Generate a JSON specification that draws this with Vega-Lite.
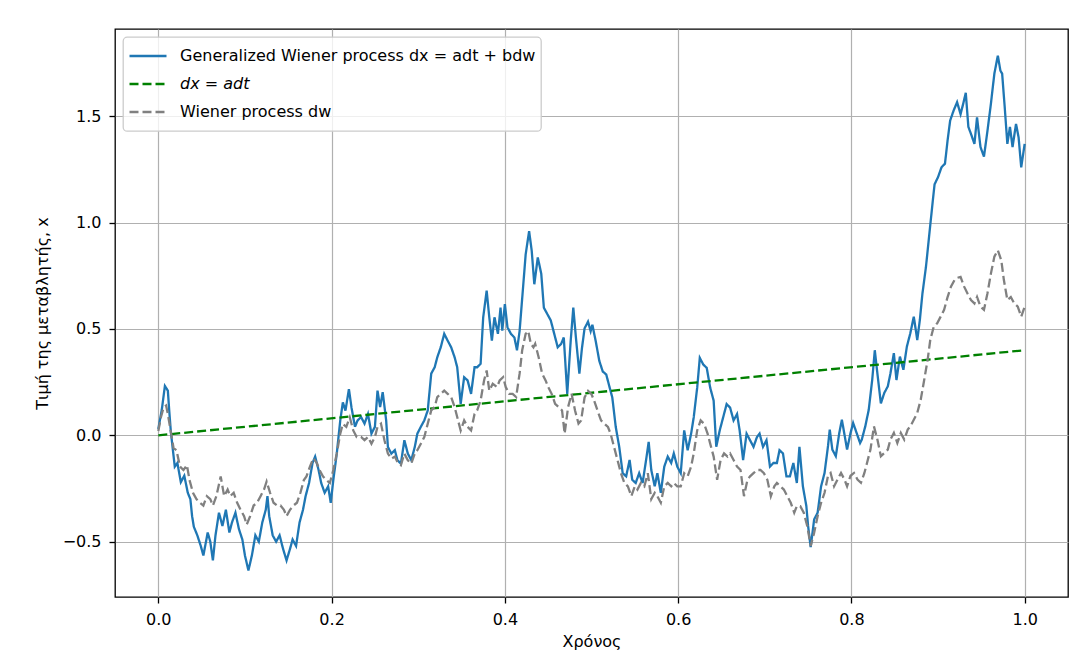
{
  "$schema": "https://vega.github.io/schema/vega-lite/v6.json",
  "width": 953,
  "height": 568,
  "autosize": {"type": "none"},
  "padding": {"left": 115, "top": 29, "right": 13, "bottom": 71},
  "background": "white",
  "datasets": {
    "gen": [
      {"t":0,"v":0.03,"s":"Generalized Wiener process dx = adt + bdw"},
      {"t":0.004,"v":0.12,"s":"Generalized Wiener process dx = adt + bdw"},
      {"t":0.0076,"v":0.232,"s":"Generalized Wiener process dx = adt + bdw"},
      {"t":0.011,"v":0.21,"s":"Generalized Wiener process dx = adt + bdw"},
      {"t":0.0126,"v":0.116,"s":"Generalized Wiener process dx = adt + bdw"},
      {"t":0.0145,"v":0.015,"s":"Generalized Wiener process dx = adt + bdw"},
      {"t":0.0164,"v":-0.054,"s":"Generalized Wiener process dx = adt + bdw"},
      {"t":0.019,"v":-0.147,"s":"Generalized Wiener process dx = adt + bdw"},
      {"t":0.022,"v":-0.13,"s":"Generalized Wiener process dx = adt + bdw"},
      {"t":0.026,"v":-0.22,"s":"Generalized Wiener process dx = adt + bdw"},
      {"t":0.03,"v":-0.19,"s":"Generalized Wiener process dx = adt + bdw"},
      {"t":0.034,"v":-0.27,"s":"Generalized Wiener process dx = adt + bdw"},
      {"t":0.037,"v":-0.3,"s":"Generalized Wiener process dx = adt + bdw"},
      {"t":0.039,"v":-0.38,"s":"Generalized Wiener process dx = adt + bdw"},
      {"t":0.041,"v":-0.43,"s":"Generalized Wiener process dx = adt + bdw"},
      {"t":0.045,"v":-0.47,"s":"Generalized Wiener process dx = adt + bdw"},
      {"t":0.049,"v":-0.52,"s":"Generalized Wiener process dx = adt + bdw"},
      {"t":0.052,"v":-0.565,"s":"Generalized Wiener process dx = adt + bdw"},
      {"t":0.057,"v":-0.457,"s":"Generalized Wiener process dx = adt + bdw"},
      {"t":0.06,"v":-0.5,"s":"Generalized Wiener process dx = adt + bdw"},
      {"t":0.063,"v":-0.588,"s":"Generalized Wiener process dx = adt + bdw"},
      {"t":0.066,"v":-0.47,"s":"Generalized Wiener process dx = adt + bdw"},
      {"t":0.07,"v":-0.364,"s":"Generalized Wiener process dx = adt + bdw"},
      {"t":0.074,"v":-0.426,"s":"Generalized Wiener process dx = adt + bdw"},
      {"t":0.078,"v":-0.35,"s":"Generalized Wiener process dx = adt + bdw"},
      {"t":0.082,"v":-0.457,"s":"Generalized Wiener process dx = adt + bdw"},
      {"t":0.085,"v":-0.41,"s":"Generalized Wiener process dx = adt + bdw"},
      {"t":0.089,"v":-0.364,"s":"Generalized Wiener process dx = adt + bdw"},
      {"t":0.093,"v":-0.44,"s":"Generalized Wiener process dx = adt + bdw"},
      {"t":0.097,"v":-0.49,"s":"Generalized Wiener process dx = adt + bdw"},
      {"t":0.1,"v":-0.565,"s":"Generalized Wiener process dx = adt + bdw"},
      {"t":0.104,"v":-0.635,"s":"Generalized Wiener process dx = adt + bdw"},
      {"t":0.108,"v":-0.565,"s":"Generalized Wiener process dx = adt + bdw"},
      {"t":0.112,"v":-0.47,"s":"Generalized Wiener process dx = adt + bdw"},
      {"t":0.116,"v":-0.5,"s":"Generalized Wiener process dx = adt + bdw"},
      {"t":0.12,"v":-0.41,"s":"Generalized Wiener process dx = adt + bdw"},
      {"t":0.124,"v":-0.35,"s":"Generalized Wiener process dx = adt + bdw"},
      {"t":0.126,"v":-0.286,"s":"Generalized Wiener process dx = adt + bdw"},
      {"t":0.128,"v":-0.38,"s":"Generalized Wiener process dx = adt + bdw"},
      {"t":0.132,"v":-0.47,"s":"Generalized Wiener process dx = adt + bdw"},
      {"t":0.136,"v":-0.5,"s":"Generalized Wiener process dx = adt + bdw"},
      {"t":0.14,"v":-0.47,"s":"Generalized Wiener process dx = adt + bdw"},
      {"t":0.144,"v":-0.534,"s":"Generalized Wiener process dx = adt + bdw"},
      {"t":0.148,"v":-0.588,"s":"Generalized Wiener process dx = adt + bdw"},
      {"t":0.152,"v":-0.534,"s":"Generalized Wiener process dx = adt + bdw"},
      {"t":0.155,"v":-0.49,"s":"Generalized Wiener process dx = adt + bdw"},
      {"t":0.159,"v":-0.52,"s":"Generalized Wiener process dx = adt + bdw"},
      {"t":0.163,"v":-0.41,"s":"Generalized Wiener process dx = adt + bdw"},
      {"t":0.167,"v":-0.35,"s":"Generalized Wiener process dx = adt + bdw"},
      {"t":0.17,"v":-0.286,"s":"Generalized Wiener process dx = adt + bdw"},
      {"t":0.174,"v":-0.224,"s":"Generalized Wiener process dx = adt + bdw"},
      {"t":0.178,"v":-0.13,"s":"Generalized Wiener process dx = adt + bdw"},
      {"t":0.181,"v":-0.1,"s":"Generalized Wiener process dx = adt + bdw"},
      {"t":0.185,"v":-0.163,"s":"Generalized Wiener process dx = adt + bdw"},
      {"t":0.188,"v":-0.224,"s":"Generalized Wiener process dx = adt + bdw"},
      {"t":0.192,"v":-0.27,"s":"Generalized Wiener process dx = adt + bdw"},
      {"t":0.196,"v":-0.24,"s":"Generalized Wiener process dx = adt + bdw"},
      {"t":0.199,"v":-0.317,"s":"Generalized Wiener process dx = adt + bdw"},
      {"t":0.202,"v":-0.21,"s":"Generalized Wiener process dx = adt + bdw"},
      {"t":0.206,"v":-0.085,"s":"Generalized Wiener process dx = adt + bdw"},
      {"t":0.21,"v":0.07,"s":"Generalized Wiener process dx = adt + bdw"},
      {"t":0.213,"v":0.155,"s":"Generalized Wiener process dx = adt + bdw"},
      {"t":0.216,"v":0.116,"s":"Generalized Wiener process dx = adt + bdw"},
      {"t":0.22,"v":0.217,"s":"Generalized Wiener process dx = adt + bdw"},
      {"t":0.223,"v":0.13,"s":"Generalized Wiener process dx = adt + bdw"},
      {"t":0.227,"v":0.04,"s":"Generalized Wiener process dx = adt + bdw"},
      {"t":0.23,"v":0.07,"s":"Generalized Wiener process dx = adt + bdw"},
      {"t":0.234,"v":0.086,"s":"Generalized Wiener process dx = adt + bdw"},
      {"t":0.238,"v":0.055,"s":"Generalized Wiener process dx = adt + bdw"},
      {"t":0.242,"v":0.1,"s":"Generalized Wiener process dx = adt + bdw"},
      {"t":0.246,"v":0.008,"s":"Generalized Wiener process dx = adt + bdw"},
      {"t":0.25,"v":0.04,"s":"Generalized Wiener process dx = adt + bdw"},
      {"t":0.253,"v":0.21,"s":"Generalized Wiener process dx = adt + bdw"},
      {"t":0.256,"v":0.133,"s":"Generalized Wiener process dx = adt + bdw"},
      {"t":0.259,"v":0.203,"s":"Generalized Wiener process dx = adt + bdw"},
      {"t":0.263,"v":0.07,"s":"Generalized Wiener process dx = adt + bdw"},
      {"t":0.265,"v":-0.055,"s":"Generalized Wiener process dx = adt + bdw"},
      {"t":0.269,"v":-0.086,"s":"Generalized Wiener process dx = adt + bdw"},
      {"t":0.273,"v":-0.07,"s":"Generalized Wiener process dx = adt + bdw"},
      {"t":0.276,"v":-0.117,"s":"Generalized Wiener process dx = adt + bdw"},
      {"t":0.28,"v":-0.133,"s":"Generalized Wiener process dx = adt + bdw"},
      {"t":0.284,"v":-0.023,"s":"Generalized Wiener process dx = adt + bdw"},
      {"t":0.288,"v":-0.086,"s":"Generalized Wiener process dx = adt + bdw"},
      {"t":0.292,"v":-0.117,"s":"Generalized Wiener process dx = adt + bdw"},
      {"t":0.296,"v":-0.055,"s":"Generalized Wiener process dx = adt + bdw"},
      {"t":0.299,"v":0.008,"s":"Generalized Wiener process dx = adt + bdw"},
      {"t":0.303,"v":0.04,"s":"Generalized Wiener process dx = adt + bdw"},
      {"t":0.307,"v":0.07,"s":"Generalized Wiener process dx = adt + bdw"},
      {"t":0.311,"v":0.117,"s":"Generalized Wiener process dx = adt + bdw"},
      {"t":0.315,"v":0.29,"s":"Generalized Wiener process dx = adt + bdw"},
      {"t":0.319,"v":0.32,"s":"Generalized Wiener process dx = adt + bdw"},
      {"t":0.322,"v":0.367,"s":"Generalized Wiener process dx = adt + bdw"},
      {"t":0.326,"v":0.414,"s":"Generalized Wiener process dx = adt + bdw"},
      {"t":0.33,"v":0.477,"s":"Generalized Wiener process dx = adt + bdw"},
      {"t":0.334,"v":0.445,"s":"Generalized Wiener process dx = adt + bdw"},
      {"t":0.338,"v":0.414,"s":"Generalized Wiener process dx = adt + bdw"},
      {"t":0.342,"v":0.367,"s":"Generalized Wiener process dx = adt + bdw"},
      {"t":0.345,"v":0.32,"s":"Generalized Wiener process dx = adt + bdw"},
      {"t":0.349,"v":0.148,"s":"Generalized Wiener process dx = adt + bdw"},
      {"t":0.353,"v":0.273,"s":"Generalized Wiener process dx = adt + bdw"},
      {"t":0.357,"v":0.258,"s":"Generalized Wiener process dx = adt + bdw"},
      {"t":0.361,"v":0.195,"s":"Generalized Wiener process dx = adt + bdw"},
      {"t":0.365,"v":0.32,"s":"Generalized Wiener process dx = adt + bdw"},
      {"t":0.368,"v":0.32,"s":"Generalized Wiener process dx = adt + bdw"},
      {"t":0.372,"v":0.336,"s":"Generalized Wiener process dx = adt + bdw"},
      {"t":0.375,"v":0.555,"s":"Generalized Wiener process dx = adt + bdw"},
      {"t":0.379,"v":0.68,"s":"Generalized Wiener process dx = adt + bdw"},
      {"t":0.382,"v":0.555,"s":"Generalized Wiener process dx = adt + bdw"},
      {"t":0.385,"v":0.445,"s":"Generalized Wiener process dx = adt + bdw"},
      {"t":0.388,"v":0.555,"s":"Generalized Wiener process dx = adt + bdw"},
      {"t":0.392,"v":0.477,"s":"Generalized Wiener process dx = adt + bdw"},
      {"t":0.395,"v":0.6,"s":"Generalized Wiener process dx = adt + bdw"},
      {"t":0.397,"v":0.492,"s":"Generalized Wiener process dx = adt + bdw"},
      {"t":0.4,"v":0.617,"s":"Generalized Wiener process dx = adt + bdw"},
      {"t":0.403,"v":0.508,"s":"Generalized Wiener process dx = adt + bdw"},
      {"t":0.407,"v":0.477,"s":"Generalized Wiener process dx = adt + bdw"},
      {"t":0.411,"v":0.46,"s":"Generalized Wiener process dx = adt + bdw"},
      {"t":0.414,"v":0.4,"s":"Generalized Wiener process dx = adt + bdw"},
      {"t":0.417,"v":0.49,"s":"Generalized Wiener process dx = adt + bdw"},
      {"t":0.421,"v":0.695,"s":"Generalized Wiener process dx = adt + bdw"},
      {"t":0.424,"v":0.85,"s":"Generalized Wiener process dx = adt + bdw"},
      {"t":0.428,"v":0.96,"s":"Generalized Wiener process dx = adt + bdw"},
      {"t":0.431,"v":0.867,"s":"Generalized Wiener process dx = adt + bdw"},
      {"t":0.434,"v":0.71,"s":"Generalized Wiener process dx = adt + bdw"},
      {"t":0.438,"v":0.836,"s":"Generalized Wiener process dx = adt + bdw"},
      {"t":0.442,"v":0.76,"s":"Generalized Wiener process dx = adt + bdw"},
      {"t":0.445,"v":0.6,"s":"Generalized Wiener process dx = adt + bdw"},
      {"t":0.449,"v":0.57,"s":"Generalized Wiener process dx = adt + bdw"},
      {"t":0.453,"v":0.54,"s":"Generalized Wiener process dx = adt + bdw"},
      {"t":0.457,"v":0.477,"s":"Generalized Wiener process dx = adt + bdw"},
      {"t":0.461,"v":0.414,"s":"Generalized Wiener process dx = adt + bdw"},
      {"t":0.465,"v":0.43,"s":"Generalized Wiener process dx = adt + bdw"},
      {"t":0.468,"v":0.46,"s":"Generalized Wiener process dx = adt + bdw"},
      {"t":0.472,"v":0.195,"s":"Generalized Wiener process dx = adt + bdw"},
      {"t":0.476,"v":0.445,"s":"Generalized Wiener process dx = adt + bdw"},
      {"t":0.479,"v":0.6,"s":"Generalized Wiener process dx = adt + bdw"},
      {"t":0.482,"v":0.46,"s":"Generalized Wiener process dx = adt + bdw"},
      {"t":0.486,"v":0.29,"s":"Generalized Wiener process dx = adt + bdw"},
      {"t":0.489,"v":0.41,"s":"Generalized Wiener process dx = adt + bdw"},
      {"t":0.492,"v":0.503,"s":"Generalized Wiener process dx = adt + bdw"},
      {"t":0.496,"v":0.534,"s":"Generalized Wiener process dx = adt + bdw"},
      {"t":0.499,"v":0.49,"s":"Generalized Wiener process dx = adt + bdw"},
      {"t":0.501,"v":0.52,"s":"Generalized Wiener process dx = adt + bdw"},
      {"t":0.505,"v":0.44,"s":"Generalized Wiener process dx = adt + bdw"},
      {"t":0.509,"v":0.35,"s":"Generalized Wiener process dx = adt + bdw"},
      {"t":0.513,"v":0.3,"s":"Generalized Wiener process dx = adt + bdw"},
      {"t":0.517,"v":0.286,"s":"Generalized Wiener process dx = adt + bdw"},
      {"t":0.521,"v":0.224,"s":"Generalized Wiener process dx = adt + bdw"},
      {"t":0.524,"v":0.178,"s":"Generalized Wiener process dx = adt + bdw"},
      {"t":0.528,"v":0.039,"s":"Generalized Wiener process dx = adt + bdw"},
      {"t":0.532,"v":-0.054,"s":"Generalized Wiener process dx = adt + bdw"},
      {"t":0.536,"v":-0.178,"s":"Generalized Wiener process dx = adt + bdw"},
      {"t":0.54,"v":-0.193,"s":"Generalized Wiener process dx = adt + bdw"},
      {"t":0.544,"v":-0.116,"s":"Generalized Wiener process dx = adt + bdw"},
      {"t":0.547,"v":-0.209,"s":"Generalized Wiener process dx = adt + bdw"},
      {"t":0.551,"v":-0.224,"s":"Generalized Wiener process dx = adt + bdw"},
      {"t":0.555,"v":-0.178,"s":"Generalized Wiener process dx = adt + bdw"},
      {"t":0.559,"v":-0.224,"s":"Generalized Wiener process dx = adt + bdw"},
      {"t":0.563,"v":-0.116,"s":"Generalized Wiener process dx = adt + bdw"},
      {"t":0.566,"v":-0.031,"s":"Generalized Wiener process dx = adt + bdw"},
      {"t":0.569,"v":-0.163,"s":"Generalized Wiener process dx = adt + bdw"},
      {"t":0.573,"v":-0.24,"s":"Generalized Wiener process dx = adt + bdw"},
      {"t":0.576,"v":-0.178,"s":"Generalized Wiener process dx = adt + bdw"},
      {"t":0.58,"v":-0.27,"s":"Generalized Wiener process dx = adt + bdw"},
      {"t":0.584,"v":-0.147,"s":"Generalized Wiener process dx = adt + bdw"},
      {"t":0.588,"v":-0.1,"s":"Generalized Wiener process dx = adt + bdw"},
      {"t":0.592,"v":-0.13,"s":"Generalized Wiener process dx = adt + bdw"},
      {"t":0.595,"v":-0.085,"s":"Generalized Wiener process dx = adt + bdw"},
      {"t":0.599,"v":-0.147,"s":"Generalized Wiener process dx = adt + bdw"},
      {"t":0.603,"v":-0.178,"s":"Generalized Wiener process dx = adt + bdw"},
      {"t":0.607,"v":0.023,"s":"Generalized Wiener process dx = adt + bdw"},
      {"t":0.611,"v":-0.07,"s":"Generalized Wiener process dx = adt + bdw"},
      {"t":0.615,"v":0.008,"s":"Generalized Wiener process dx = adt + bdw"},
      {"t":0.618,"v":0.085,"s":"Generalized Wiener process dx = adt + bdw"},
      {"t":0.622,"v":0.224,"s":"Generalized Wiener process dx = adt + bdw"},
      {"t":0.625,"v":0.364,"s":"Generalized Wiener process dx = adt + bdw"},
      {"t":0.629,"v":0.333,"s":"Generalized Wiener process dx = adt + bdw"},
      {"t":0.633,"v":0.317,"s":"Generalized Wiener process dx = adt + bdw"},
      {"t":0.637,"v":0.224,"s":"Generalized Wiener process dx = adt + bdw"},
      {"t":0.641,"v":0.163,"s":"Generalized Wiener process dx = adt + bdw"},
      {"t":0.644,"v":-0.054,"s":"Generalized Wiener process dx = adt + bdw"},
      {"t":0.648,"v":0.023,"s":"Generalized Wiener process dx = adt + bdw"},
      {"t":0.652,"v":0.085,"s":"Generalized Wiener process dx = adt + bdw"},
      {"t":0.656,"v":0.147,"s":"Generalized Wiener process dx = adt + bdw"},
      {"t":0.66,"v":0.13,"s":"Generalized Wiener process dx = adt + bdw"},
      {"t":0.664,"v":0.07,"s":"Generalized Wiener process dx = adt + bdw"},
      {"t":0.668,"v":0.1,"s":"Generalized Wiener process dx = adt + bdw"},
      {"t":0.671,"v":0.023,"s":"Generalized Wiener process dx = adt + bdw"},
      {"t":0.675,"v":-0.116,"s":"Generalized Wiener process dx = adt + bdw"},
      {"t":0.679,"v":0.008,"s":"Generalized Wiener process dx = adt + bdw"},
      {"t":0.683,"v":-0.023,"s":"Generalized Wiener process dx = adt + bdw"},
      {"t":0.687,"v":-0.054,"s":"Generalized Wiener process dx = adt + bdw"},
      {"t":0.691,"v":-0.008,"s":"Generalized Wiener process dx = adt + bdw"},
      {"t":0.694,"v":0.008,"s":"Generalized Wiener process dx = adt + bdw"},
      {"t":0.698,"v":-0.054,"s":"Generalized Wiener process dx = adt + bdw"},
      {"t":0.702,"v":-0.023,"s":"Generalized Wiener process dx = adt + bdw"},
      {"t":0.706,"v":-0.147,"s":"Generalized Wiener process dx = adt + bdw"},
      {"t":0.71,"v":-0.13,"s":"Generalized Wiener process dx = adt + bdw"},
      {"t":0.714,"v":-0.13,"s":"Generalized Wiener process dx = adt + bdw"},
      {"t":0.717,"v":-0.07,"s":"Generalized Wiener process dx = adt + bdw"},
      {"t":0.721,"v":-0.085,"s":"Generalized Wiener process dx = adt + bdw"},
      {"t":0.725,"v":-0.193,"s":"Generalized Wiener process dx = adt + bdw"},
      {"t":0.729,"v":-0.193,"s":"Generalized Wiener process dx = adt + bdw"},
      {"t":0.733,"v":-0.13,"s":"Generalized Wiener process dx = adt + bdw"},
      {"t":0.737,"v":-0.224,"s":"Generalized Wiener process dx = adt + bdw"},
      {"t":0.74,"v":-0.054,"s":"Generalized Wiener process dx = adt + bdw"},
      {"t":0.744,"v":-0.24,"s":"Generalized Wiener process dx = adt + bdw"},
      {"t":0.748,"v":-0.333,"s":"Generalized Wiener process dx = adt + bdw"},
      {"t":0.75,"v":-0.426,"s":"Generalized Wiener process dx = adt + bdw"},
      {"t":0.753,"v":-0.526,"s":"Generalized Wiener process dx = adt + bdw"},
      {"t":0.757,"v":-0.395,"s":"Generalized Wiener process dx = adt + bdw"},
      {"t":0.761,"v":-0.364,"s":"Generalized Wiener process dx = adt + bdw"},
      {"t":0.765,"v":-0.24,"s":"Generalized Wiener process dx = adt + bdw"},
      {"t":0.769,"v":-0.177,"s":"Generalized Wiener process dx = adt + bdw"},
      {"t":0.773,"v":-0.05,"s":"Generalized Wiener process dx = adt + bdw"},
      {"t":0.775,"v":0.027,"s":"Generalized Wiener process dx = adt + bdw"},
      {"t":0.778,"v":-0.067,"s":"Generalized Wiener process dx = adt + bdw"},
      {"t":0.782,"v":-0.098,"s":"Generalized Wiener process dx = adt + bdw"},
      {"t":0.786,"v":0.011,"s":"Generalized Wiener process dx = adt + bdw"},
      {"t":0.789,"v":0.073,"s":"Generalized Wiener process dx = adt + bdw"},
      {"t":0.791,"v":0.027,"s":"Generalized Wiener process dx = adt + bdw"},
      {"t":0.795,"v":-0.067,"s":"Generalized Wiener process dx = adt + bdw"},
      {"t":0.799,"v":0.011,"s":"Generalized Wiener process dx = adt + bdw"},
      {"t":0.802,"v":0.058,"s":"Generalized Wiener process dx = adt + bdw"},
      {"t":0.806,"v":0.011,"s":"Generalized Wiener process dx = adt + bdw"},
      {"t":0.81,"v":-0.036,"s":"Generalized Wiener process dx = adt + bdw"},
      {"t":0.812,"v":-0.02,"s":"Generalized Wiener process dx = adt + bdw"},
      {"t":0.816,"v":0.042,"s":"Generalized Wiener process dx = adt + bdw"},
      {"t":0.82,"v":0.12,"s":"Generalized Wiener process dx = adt + bdw"},
      {"t":0.824,"v":0.26,"s":"Generalized Wiener process dx = adt + bdw"},
      {"t":0.827,"v":0.4,"s":"Generalized Wiener process dx = adt + bdw"},
      {"t":0.83,"v":0.29,"s":"Generalized Wiener process dx = adt + bdw"},
      {"t":0.834,"v":0.15,"s":"Generalized Wiener process dx = adt + bdw"},
      {"t":0.838,"v":0.2,"s":"Generalized Wiener process dx = adt + bdw"},
      {"t":0.842,"v":0.23,"s":"Generalized Wiener process dx = adt + bdw"},
      {"t":0.845,"v":0.29,"s":"Generalized Wiener process dx = adt + bdw"},
      {"t":0.849,"v":0.386,"s":"Generalized Wiener process dx = adt + bdw"},
      {"t":0.852,"v":0.26,"s":"Generalized Wiener process dx = adt + bdw"},
      {"t":0.856,"v":0.37,"s":"Generalized Wiener process dx = adt + bdw"},
      {"t":0.86,"v":0.308,"s":"Generalized Wiener process dx = adt + bdw"},
      {"t":0.864,"v":0.417,"s":"Generalized Wiener process dx = adt + bdw"},
      {"t":0.868,"v":0.48,"s":"Generalized Wiener process dx = adt + bdw"},
      {"t":0.872,"v":0.558,"s":"Generalized Wiener process dx = adt + bdw"},
      {"t":0.876,"v":0.448,"s":"Generalized Wiener process dx = adt + bdw"},
      {"t":0.879,"v":0.542,"s":"Generalized Wiener process dx = adt + bdw"},
      {"t":0.882,"v":0.667,"s":"Generalized Wiener process dx = adt + bdw"},
      {"t":0.886,"v":0.79,"s":"Generalized Wiener process dx = adt + bdw"},
      {"t":0.89,"v":0.948,"s":"Generalized Wiener process dx = adt + bdw"},
      {"t":0.894,"v":1.105,"s":"Generalized Wiener process dx = adt + bdw"},
      {"t":0.896,"v":1.18,"s":"Generalized Wiener process dx = adt + bdw"},
      {"t":0.9,"v":1.214,"s":"Generalized Wiener process dx = adt + bdw"},
      {"t":0.904,"v":1.26,"s":"Generalized Wiener process dx = adt + bdw"},
      {"t":0.908,"v":1.277,"s":"Generalized Wiener process dx = adt + bdw"},
      {"t":0.911,"v":1.386,"s":"Generalized Wiener process dx = adt + bdw"},
      {"t":0.914,"v":1.48,"s":"Generalized Wiener process dx = adt + bdw"},
      {"t":0.918,"v":1.527,"s":"Generalized Wiener process dx = adt + bdw"},
      {"t":0.922,"v":1.566,"s":"Generalized Wiener process dx = adt + bdw"},
      {"t":0.926,"v":1.51,"s":"Generalized Wiener process dx = adt + bdw"},
      {"t":0.929,"v":1.558,"s":"Generalized Wiener process dx = adt + bdw"},
      {"t":0.932,"v":1.61,"s":"Generalized Wiener process dx = adt + bdw"},
      {"t":0.935,"v":1.45,"s":"Generalized Wiener process dx = adt + bdw"},
      {"t":0.938,"v":1.417,"s":"Generalized Wiener process dx = adt + bdw"},
      {"t":0.942,"v":1.37,"s":"Generalized Wiener process dx = adt + bdw"},
      {"t":0.945,"v":1.495,"s":"Generalized Wiener process dx = adt + bdw"},
      {"t":0.949,"v":1.355,"s":"Generalized Wiener process dx = adt + bdw"},
      {"t":0.953,"v":1.31,"s":"Generalized Wiener process dx = adt + bdw"},
      {"t":0.957,"v":1.43,"s":"Generalized Wiener process dx = adt + bdw"},
      {"t":0.961,"v":1.558,"s":"Generalized Wiener process dx = adt + bdw"},
      {"t":0.965,"v":1.7,"s":"Generalized Wiener process dx = adt + bdw"},
      {"t":0.969,"v":1.785,"s":"Generalized Wiener process dx = adt + bdw"},
      {"t":0.972,"v":1.714,"s":"Generalized Wiener process dx = adt + bdw"},
      {"t":0.974,"v":1.7,"s":"Generalized Wiener process dx = adt + bdw"},
      {"t":0.977,"v":1.54,"s":"Generalized Wiener process dx = adt + bdw"},
      {"t":0.98,"v":1.37,"s":"Generalized Wiener process dx = adt + bdw"},
      {"t":0.983,"v":1.45,"s":"Generalized Wiener process dx = adt + bdw"},
      {"t":0.986,"v":1.355,"s":"Generalized Wiener process dx = adt + bdw"},
      {"t":0.99,"v":1.464,"s":"Generalized Wiener process dx = adt + bdw"},
      {"t":0.993,"v":1.4,"s":"Generalized Wiener process dx = adt + bdw"},
      {"t":0.996,"v":1.26,"s":"Generalized Wiener process dx = adt + bdw"},
      {"t":1.0,"v":1.37,"s":"Generalized Wiener process dx = adt + bdw"}
    ],
    "drift": [
      {"t":0,"v":0,"s":"dx = adt"},
      {"t":1.0,"v":0.4,"s":"dx = adt"}
    ],
    "wiener": [
      {"t":0,"v":0.02,"s":"Wiener process dw"},
      {"t":0.003,"v":0.085,"s":"Wiener process dw"},
      {"t":0.006,"v":0.13,"s":"Wiener process dw"},
      {"t":0.009,"v":0.14,"s":"Wiener process dw"},
      {"t":0.011,"v":0.1,"s":"Wiener process dw"},
      {"t":0.0145,"v":0.015,"s":"Wiener process dw"},
      {"t":0.0176,"v":-0.06,"s":"Wiener process dw"},
      {"t":0.021,"v":-0.07,"s":"Wiener process dw"},
      {"t":0.025,"v":-0.147,"s":"Wiener process dw"},
      {"t":0.029,"v":-0.163,"s":"Wiener process dw"},
      {"t":0.033,"v":-0.14,"s":"Wiener process dw"},
      {"t":0.036,"v":-0.21,"s":"Wiener process dw"},
      {"t":0.04,"v":-0.27,"s":"Wiener process dw"},
      {"t":0.044,"v":-0.3,"s":"Wiener process dw"},
      {"t":0.048,"v":-0.317,"s":"Wiener process dw"},
      {"t":0.052,"v":-0.33,"s":"Wiener process dw"},
      {"t":0.056,"v":-0.286,"s":"Wiener process dw"},
      {"t":0.06,"v":-0.3,"s":"Wiener process dw"},
      {"t":0.063,"v":-0.33,"s":"Wiener process dw"},
      {"t":0.067,"v":-0.286,"s":"Wiener process dw"},
      {"t":0.072,"v":-0.193,"s":"Wiener process dw"},
      {"t":0.076,"v":-0.286,"s":"Wiener process dw"},
      {"t":0.08,"v":-0.255,"s":"Wiener process dw"},
      {"t":0.083,"v":-0.286,"s":"Wiener process dw"},
      {"t":0.087,"v":-0.27,"s":"Wiener process dw"},
      {"t":0.091,"v":-0.317,"s":"Wiener process dw"},
      {"t":0.095,"v":-0.35,"s":"Wiener process dw"},
      {"t":0.099,"v":-0.38,"s":"Wiener process dw"},
      {"t":0.102,"v":-0.42,"s":"Wiener process dw"},
      {"t":0.106,"v":-0.38,"s":"Wiener process dw"},
      {"t":0.11,"v":-0.33,"s":"Wiener process dw"},
      {"t":0.114,"v":-0.317,"s":"Wiener process dw"},
      {"t":0.118,"v":-0.286,"s":"Wiener process dw"},
      {"t":0.122,"v":-0.255,"s":"Wiener process dw"},
      {"t":0.125,"v":-0.217,"s":"Wiener process dw"},
      {"t":0.129,"v":-0.27,"s":"Wiener process dw"},
      {"t":0.133,"v":-0.317,"s":"Wiener process dw"},
      {"t":0.137,"v":-0.33,"s":"Wiener process dw"},
      {"t":0.141,"v":-0.33,"s":"Wiener process dw"},
      {"t":0.145,"v":-0.35,"s":"Wiener process dw"},
      {"t":0.148,"v":-0.38,"s":"Wiener process dw"},
      {"t":0.152,"v":-0.35,"s":"Wiener process dw"},
      {"t":0.156,"v":-0.33,"s":"Wiener process dw"},
      {"t":0.16,"v":-0.317,"s":"Wiener process dw"},
      {"t":0.164,"v":-0.27,"s":"Wiener process dw"},
      {"t":0.168,"v":-0.21,"s":"Wiener process dw"},
      {"t":0.171,"v":-0.193,"s":"Wiener process dw"},
      {"t":0.175,"v":-0.147,"s":"Wiener process dw"},
      {"t":0.179,"v":-0.108,"s":"Wiener process dw"},
      {"t":0.183,"v":-0.13,"s":"Wiener process dw"},
      {"t":0.186,"v":-0.163,"s":"Wiener process dw"},
      {"t":0.19,"v":-0.193,"s":"Wiener process dw"},
      {"t":0.194,"v":-0.21,"s":"Wiener process dw"},
      {"t":0.198,"v":-0.224,"s":"Wiener process dw"},
      {"t":0.202,"v":-0.163,"s":"Wiener process dw"},
      {"t":0.206,"v":-0.085,"s":"Wiener process dw"},
      {"t":0.21,"v":0.008,"s":"Wiener process dw"},
      {"t":0.213,"v":0.054,"s":"Wiener process dw"},
      {"t":0.217,"v":0.04,"s":"Wiener process dw"},
      {"t":0.221,"v":0.085,"s":"Wiener process dw"},
      {"t":0.225,"v":0.023,"s":"Wiener process dw"},
      {"t":0.229,"v":-0.008,"s":"Wiener process dw"},
      {"t":0.234,"v":-0.008,"s":"Wiener process dw"},
      {"t":0.238,"v":-0.023,"s":"Wiener process dw"},
      {"t":0.242,"v":-0.008,"s":"Wiener process dw"},
      {"t":0.246,"v":-0.04,"s":"Wiener process dw"},
      {"t":0.25,"v":-0.008,"s":"Wiener process dw"},
      {"t":0.253,"v":0.04,"s":"Wiener process dw"},
      {"t":0.257,"v":0.055,"s":"Wiener process dw"},
      {"t":0.261,"v":-0.023,"s":"Wiener process dw"},
      {"t":0.265,"v":-0.086,"s":"Wiener process dw"},
      {"t":0.269,"v":-0.11,"s":"Wiener process dw"},
      {"t":0.273,"v":-0.1,"s":"Wiener process dw"},
      {"t":0.276,"v":-0.125,"s":"Wiener process dw"},
      {"t":0.28,"v":-0.14,"s":"Wiener process dw"},
      {"t":0.284,"v":-0.086,"s":"Wiener process dw"},
      {"t":0.288,"v":-0.117,"s":"Wiener process dw"},
      {"t":0.292,"v":-0.133,"s":"Wiener process dw"},
      {"t":0.296,"v":-0.086,"s":"Wiener process dw"},
      {"t":0.299,"v":-0.07,"s":"Wiener process dw"},
      {"t":0.303,"v":-0.04,"s":"Wiener process dw"},
      {"t":0.307,"v":-0.008,"s":"Wiener process dw"},
      {"t":0.311,"v":0.055,"s":"Wiener process dw"},
      {"t":0.315,"v":0.117,"s":"Wiener process dw"},
      {"t":0.319,"v":0.133,"s":"Wiener process dw"},
      {"t":0.322,"v":0.18,"s":"Wiener process dw"},
      {"t":0.326,"v":0.195,"s":"Wiener process dw"},
      {"t":0.33,"v":0.21,"s":"Wiener process dw"},
      {"t":0.334,"v":0.195,"s":"Wiener process dw"},
      {"t":0.338,"v":0.18,"s":"Wiener process dw"},
      {"t":0.342,"v":0.133,"s":"Wiener process dw"},
      {"t":0.345,"v":0.086,"s":"Wiener process dw"},
      {"t":0.349,"v":0.023,"s":"Wiener process dw"},
      {"t":0.353,"v":0.07,"s":"Wiener process dw"},
      {"t":0.357,"v":0.04,"s":"Wiener process dw"},
      {"t":0.361,"v":0.023,"s":"Wiener process dw"},
      {"t":0.365,"v":0.1,"s":"Wiener process dw"},
      {"t":0.368,"v":0.117,"s":"Wiener process dw"},
      {"t":0.372,"v":0.164,"s":"Wiener process dw"},
      {"t":0.376,"v":0.258,"s":"Wiener process dw"},
      {"t":0.379,"v":0.305,"s":"Wiener process dw"},
      {"t":0.382,"v":0.21,"s":"Wiener process dw"},
      {"t":0.386,"v":0.242,"s":"Wiener process dw"},
      {"t":0.391,"v":0.227,"s":"Wiener process dw"},
      {"t":0.394,"v":0.258,"s":"Wiener process dw"},
      {"t":0.398,"v":0.273,"s":"Wiener process dw"},
      {"t":0.401,"v":0.227,"s":"Wiener process dw"},
      {"t":0.405,"v":0.195,"s":"Wiener process dw"},
      {"t":0.409,"v":0.195,"s":"Wiener process dw"},
      {"t":0.413,"v":0.18,"s":"Wiener process dw"},
      {"t":0.417,"v":0.29,"s":"Wiener process dw"},
      {"t":0.42,"v":0.4,"s":"Wiener process dw"},
      {"t":0.424,"v":0.477,"s":"Wiener process dw"},
      {"t":0.427,"v":0.49,"s":"Wiener process dw"},
      {"t":0.43,"v":0.43,"s":"Wiener process dw"},
      {"t":0.433,"v":0.414,"s":"Wiener process dw"},
      {"t":0.435,"v":0.43,"s":"Wiener process dw"},
      {"t":0.439,"v":0.367,"s":"Wiener process dw"},
      {"t":0.443,"v":0.29,"s":"Wiener process dw"},
      {"t":0.447,"v":0.258,"s":"Wiener process dw"},
      {"t":0.45,"v":0.227,"s":"Wiener process dw"},
      {"t":0.454,"v":0.195,"s":"Wiener process dw"},
      {"t":0.458,"v":0.148,"s":"Wiener process dw"},
      {"t":0.462,"v":0.133,"s":"Wiener process dw"},
      {"t":0.466,"v":0.117,"s":"Wiener process dw"},
      {"t":0.469,"v":0.008,"s":"Wiener process dw"},
      {"t":0.473,"v":0.133,"s":"Wiener process dw"},
      {"t":0.477,"v":0.195,"s":"Wiener process dw"},
      {"t":0.481,"v":0.117,"s":"Wiener process dw"},
      {"t":0.485,"v":0.055,"s":"Wiener process dw"},
      {"t":0.488,"v":0.07,"s":"Wiener process dw"},
      {"t":0.492,"v":0.178,"s":"Wiener process dw"},
      {"t":0.496,"v":0.209,"s":"Wiener process dw"},
      {"t":0.5,"v":0.193,"s":"Wiener process dw"},
      {"t":0.503,"v":0.163,"s":"Wiener process dw"},
      {"t":0.507,"v":0.116,"s":"Wiener process dw"},
      {"t":0.511,"v":0.07,"s":"Wiener process dw"},
      {"t":0.515,"v":0.054,"s":"Wiener process dw"},
      {"t":0.519,"v":0.039,"s":"Wiener process dw"},
      {"t":0.522,"v":0.008,"s":"Wiener process dw"},
      {"t":0.526,"v":-0.054,"s":"Wiener process dw"},
      {"t":0.53,"v":-0.116,"s":"Wiener process dw"},
      {"t":0.534,"v":-0.178,"s":"Wiener process dw"},
      {"t":0.538,"v":-0.224,"s":"Wiener process dw"},
      {"t":0.542,"v":-0.24,"s":"Wiener process dw"},
      {"t":0.546,"v":-0.286,"s":"Wiener process dw"},
      {"t":0.55,"v":-0.24,"s":"Wiener process dw"},
      {"t":0.553,"v":-0.255,"s":"Wiener process dw"},
      {"t":0.557,"v":-0.224,"s":"Wiener process dw"},
      {"t":0.561,"v":-0.24,"s":"Wiener process dw"},
      {"t":0.565,"v":-0.178,"s":"Wiener process dw"},
      {"t":0.569,"v":-0.3,"s":"Wiener process dw"},
      {"t":0.573,"v":-0.27,"s":"Wiener process dw"},
      {"t":0.576,"v":-0.286,"s":"Wiener process dw"},
      {"t":0.58,"v":-0.317,"s":"Wiener process dw"},
      {"t":0.584,"v":-0.24,"s":"Wiener process dw"},
      {"t":0.588,"v":-0.224,"s":"Wiener process dw"},
      {"t":0.592,"v":-0.24,"s":"Wiener process dw"},
      {"t":0.595,"v":-0.224,"s":"Wiener process dw"},
      {"t":0.599,"v":-0.24,"s":"Wiener process dw"},
      {"t":0.603,"v":-0.24,"s":"Wiener process dw"},
      {"t":0.607,"v":-0.178,"s":"Wiener process dw"},
      {"t":0.611,"v":-0.193,"s":"Wiener process dw"},
      {"t":0.615,"v":-0.147,"s":"Wiener process dw"},
      {"t":0.618,"v":-0.085,"s":"Wiener process dw"},
      {"t":0.622,"v":0.023,"s":"Wiener process dw"},
      {"t":0.626,"v":0.07,"s":"Wiener process dw"},
      {"t":0.63,"v":0.054,"s":"Wiener process dw"},
      {"t":0.634,"v":0.008,"s":"Wiener process dw"},
      {"t":0.637,"v":-0.039,"s":"Wiener process dw"},
      {"t":0.641,"v":-0.1,"s":"Wiener process dw"},
      {"t":0.645,"v":-0.209,"s":"Wiener process dw"},
      {"t":0.649,"v":-0.116,"s":"Wiener process dw"},
      {"t":0.653,"v":-0.085,"s":"Wiener process dw"},
      {"t":0.657,"v":-0.1,"s":"Wiener process dw"},
      {"t":0.66,"v":-0.085,"s":"Wiener process dw"},
      {"t":0.664,"v":-0.116,"s":"Wiener process dw"},
      {"t":0.668,"v":-0.147,"s":"Wiener process dw"},
      {"t":0.672,"v":-0.163,"s":"Wiener process dw"},
      {"t":0.676,"v":-0.286,"s":"Wiener process dw"},
      {"t":0.68,"v":-0.209,"s":"Wiener process dw"},
      {"t":0.683,"v":-0.193,"s":"Wiener process dw"},
      {"t":0.687,"v":-0.178,"s":"Wiener process dw"},
      {"t":0.691,"v":-0.163,"s":"Wiener process dw"},
      {"t":0.695,"v":-0.163,"s":"Wiener process dw"},
      {"t":0.699,"v":-0.178,"s":"Wiener process dw"},
      {"t":0.703,"v":-0.209,"s":"Wiener process dw"},
      {"t":0.707,"v":-0.286,"s":"Wiener process dw"},
      {"t":0.711,"v":-0.24,"s":"Wiener process dw"},
      {"t":0.714,"v":-0.224,"s":"Wiener process dw"},
      {"t":0.718,"v":-0.24,"s":"Wiener process dw"},
      {"t":0.722,"v":-0.255,"s":"Wiener process dw"},
      {"t":0.726,"v":-0.286,"s":"Wiener process dw"},
      {"t":0.73,"v":-0.317,"s":"Wiener process dw"},
      {"t":0.734,"v":-0.364,"s":"Wiener process dw"},
      {"t":0.737,"v":-0.333,"s":"Wiener process dw"},
      {"t":0.741,"v":-0.333,"s":"Wiener process dw"},
      {"t":0.745,"v":-0.364,"s":"Wiener process dw"},
      {"t":0.749,"v":-0.426,"s":"Wiener process dw"},
      {"t":0.753,"v":-0.52,"s":"Wiener process dw"},
      {"t":0.757,"v":-0.458,"s":"Wiener process dw"},
      {"t":0.761,"v":-0.38,"s":"Wiener process dw"},
      {"t":0.765,"v":-0.317,"s":"Wiener process dw"},
      {"t":0.769,"v":-0.27,"s":"Wiener process dw"},
      {"t":0.773,"v":-0.19,"s":"Wiener process dw"},
      {"t":0.776,"v":-0.177,"s":"Wiener process dw"},
      {"t":0.78,"v":-0.24,"s":"Wiener process dw"},
      {"t":0.784,"v":-0.208,"s":"Wiener process dw"},
      {"t":0.788,"v":-0.177,"s":"Wiener process dw"},
      {"t":0.792,"v":-0.208,"s":"Wiener process dw"},
      {"t":0.795,"v":-0.24,"s":"Wiener process dw"},
      {"t":0.799,"v":-0.19,"s":"Wiener process dw"},
      {"t":0.803,"v":-0.177,"s":"Wiener process dw"},
      {"t":0.807,"v":-0.208,"s":"Wiener process dw"},
      {"t":0.811,"v":-0.223,"s":"Wiener process dw"},
      {"t":0.815,"v":-0.177,"s":"Wiener process dw"},
      {"t":0.818,"v":-0.13,"s":"Wiener process dw"},
      {"t":0.822,"v":-0.067,"s":"Wiener process dw"},
      {"t":0.826,"v":0.042,"s":"Wiener process dw"},
      {"t":0.83,"v":-0.02,"s":"Wiener process dw"},
      {"t":0.834,"v":-0.098,"s":"Wiener process dw"},
      {"t":0.838,"v":-0.083,"s":"Wiener process dw"},
      {"t":0.842,"v":-0.067,"s":"Wiener process dw"},
      {"t":0.845,"v":-0.02,"s":"Wiener process dw"},
      {"t":0.849,"v":0.011,"s":"Wiener process dw"},
      {"t":0.853,"v":-0.036,"s":"Wiener process dw"},
      {"t":0.857,"v":0.011,"s":"Wiener process dw"},
      {"t":0.861,"v":-0.02,"s":"Wiener process dw"},
      {"t":0.865,"v":0.027,"s":"Wiener process dw"},
      {"t":0.868,"v":0.042,"s":"Wiener process dw"},
      {"t":0.872,"v":0.073,"s":"Wiener process dw"},
      {"t":0.876,"v":0.105,"s":"Wiener process dw"},
      {"t":0.88,"v":0.167,"s":"Wiener process dw"},
      {"t":0.884,"v":0.26,"s":"Wiener process dw"},
      {"t":0.888,"v":0.355,"s":"Wiener process dw"},
      {"t":0.891,"v":0.448,"s":"Wiener process dw"},
      {"t":0.895,"v":0.51,"s":"Wiener process dw"},
      {"t":0.899,"v":0.527,"s":"Wiener process dw"},
      {"t":0.903,"v":0.558,"s":"Wiener process dw"},
      {"t":0.907,"v":0.59,"s":"Wiener process dw"},
      {"t":0.911,"v":0.65,"s":"Wiener process dw"},
      {"t":0.915,"v":0.7,"s":"Wiener process dw"},
      {"t":0.919,"v":0.73,"s":"Wiener process dw"},
      {"t":0.922,"v":0.74,"s":"Wiener process dw"},
      {"t":0.926,"v":0.745,"s":"Wiener process dw"},
      {"t":0.93,"v":0.7,"s":"Wiener process dw"},
      {"t":0.934,"v":0.667,"s":"Wiener process dw"},
      {"t":0.938,"v":0.636,"s":"Wiener process dw"},
      {"t":0.942,"v":0.62,"s":"Wiener process dw"},
      {"t":0.945,"v":0.65,"s":"Wiener process dw"},
      {"t":0.949,"v":0.605,"s":"Wiener process dw"},
      {"t":0.953,"v":0.59,"s":"Wiener process dw"},
      {"t":0.957,"v":0.667,"s":"Wiener process dw"},
      {"t":0.961,"v":0.76,"s":"Wiener process dw"},
      {"t":0.965,"v":0.84,"s":"Wiener process dw"},
      {"t":0.969,"v":0.87,"s":"Wiener process dw"},
      {"t":0.973,"v":0.823,"s":"Wiener process dw"},
      {"t":0.976,"v":0.73,"s":"Wiener process dw"},
      {"t":0.98,"v":0.636,"s":"Wiener process dw"},
      {"t":0.984,"v":0.65,"s":"Wiener process dw"},
      {"t":0.988,"v":0.62,"s":"Wiener process dw"},
      {"t":0.992,"v":0.605,"s":"Wiener process dw"},
      {"t":0.996,"v":0.558,"s":"Wiener process dw"},
      {"t":1.0,"v":0.605,"s":"Wiener process dw"}
    ]
  },
  "encoding": {
    "x": {
      "field": "t", "type": "quantitative",
      "scale": {"domain": [-0.05, 1.05], "nice": false, "zero": false},
      "axis": {"title": "Χρόνος", "values": [0, 0.2, 0.4, 0.6, 0.8, 1.0], "format": ".1f"}
    },
    "y": {
      "field": "v", "type": "quantitative",
      "scale": {"domain": [-0.76, 1.91], "nice": false, "zero": false},
      "axis": {"title": "Τιμή της μεταβλητής, x", "values": [-0.5, 0, 0.5, 1, 1.5], "format": ".1f"}
    },
    "color": {
      "field": "s", "type": "nominal",
      "scale": {
        "domain": ["Generalized Wiener process dx = adt + bdw", "dx = adt", "Wiener process dw"],
        "range": ["#1f77b4", "#008000", "#808080"]
      },
      "legend": {
        "title": null,
        "encode": {"labels": {"update": {"fontStyle": {"signal": "datum.value === 'dx = adt' ? 'italic' : 'normal'"}}}}
      }
    },
    "strokeDash": {
      "field": "s", "type": "nominal",
      "scale": {
        "domain": ["Generalized Wiener process dx = adt + bdw", "dx = adt", "Wiener process dw"],
        "range": [[1, 0], [9, 4], [9, 4]]
      },
      "legend": {
        "title": null,
        "encode": {"labels": {"update": {"fontStyle": {"signal": "datum.value === 'dx = adt' ? 'italic' : 'normal'"}}}}
      }
    }
  },
  "layer": [
    {"data": {"name": "gen"}, "mark": {"type": "line", "strokeWidth": 2.3}},
    {"data": {"name": "drift"}, "mark": {"type": "line", "strokeWidth": 2.3}},
    {"data": {"name": "wiener"}, "mark": {"type": "line", "strokeWidth": 2.3}}
  ],
  "config": {
    "font": "DejaVu Sans",
    "view": {"stroke": "#000000", "strokeWidth": 1.3},
    "axis": {
      "labelFont": "DejaVu Sans", "labelFontSize": 16, "labelColor": "#000000",
      "titleFont": "DejaVu Sans", "titleFontSize": 16, "titleFontWeight": "normal", "titleColor": "#000000",
      "tickColor": "#000000", "tickSize": 6, "tickWidth": 1.3, "labelPadding": 8,
      "gridColor": "#b0b0b0", "gridWidth": 1.2, "gridOpacity": 1, "domain": false, "grid": true,
      "labelOverlap": false, "labelFlush": false
    },
    "axisX": {"titlePadding": 6},
    "axisY": {"titlePadding": 12},
    "legend": {
      "orient": "top-left", "offset": 8, "padding": 5,
      "fillColor": "rgba(255,255,255,0.8)", "strokeColor": "#cccccc", "strokeWidth": 1.3, "cornerRadius": 4,
      "labelFont": "DejaVu Sans", "labelFontSize": 16, "labelColor": "#000000", "labelLimit": 800,
      "labelOffset": 12, "symbolType": "stroke", "symbolSize": 1369, "symbolStrokeWidth": 2.3,
      "clipHeight": 28, "rowPadding": 0
    }
  }
}
